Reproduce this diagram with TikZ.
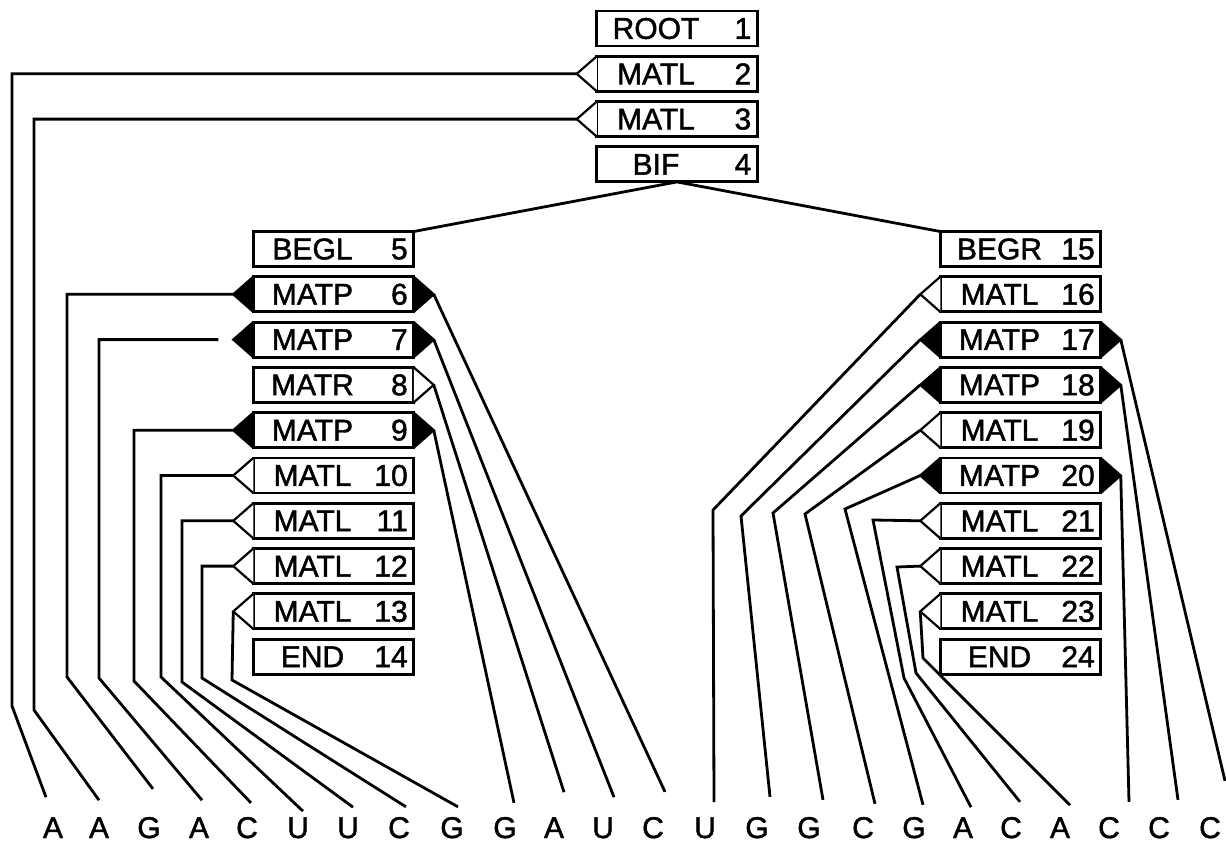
\documentclass[tikz,border=0pt]{standalone}
\usepackage{fontspec}
\setmainfont{Liberation Sans}[FakeBold=1.5]

\newcommand{\stlabel}[2]{\makebox[106.5pt]{#1}\makebox[42pt][r]{#2}\hspace{12pt}}

\begin{document}
\begin{tikzpicture}[x=1pt, y=-1pt, font=\fontsize{30}{36}\selectfont]
  \tikzstyle{state} = [draw, line width=2.9pt, fill=white, rectangle, minimum height=35pt, minimum width=160.5pt, inner sep=0pt, outer sep=0pt, node distance=45.3pt]
  \tikzstyle{openTip} = [draw, fill=white, line width=2.2pt]
  \tikzstyle{fullTip} = [draw, fill=black, line width=2.2pt]
  \tikzstyle{stateEdge} = [black, line width=2.8pt]
  \tikzstyle{residue} = [anchor=base, inner sep=0pt]

  \useasboundingbox (0,0) rectangle (1226,844);

  % top column
  \node[state] (n1)               at (677,28.5) {\stlabel{ROOT}{1}};
  \node[state] (n2) [below of=n1] {\stlabel{MATL}{2}};
  \node[state] (n3) [below of=n2] {\stlabel{MATL}{3}};
  \node[state] (n4) [below of=n3] {\stlabel{BIF}{4}};

  % left branch
  \node[state] (n5)                 at (333.5,249) {\stlabel{BEGL}{5}};
  \node[state] (n6)  [below of=n5]  {\stlabel{MATP}{6}};
  \node[state] (n7)  [below of=n6]  {\stlabel{MATP}{7}};
  \node[state] (n8)  [below of=n7]  {\stlabel{MATR}{8}};
  \node[state] (n9)  [below of=n8]  {\stlabel{MATP}{9}};
  \node[state] (n10) [below of=n9]  {\stlabel{MATL}{10}};
  \node[state] (n11) [below of=n10] {\stlabel{MATL}{11}};
  \node[state] (n12) [below of=n11] {\stlabel{MATL}{12}};
  \node[state] (n13) [below of=n12] {\stlabel{MATL}{13}};
  \node[state] (n14) [below of=n13] {\stlabel{END}{14}};

  % right branch
  \node[state] (n15)                at (1020.5,249) {\stlabel{BEGR}{15}};
  \node[state] (n16) [below of=n15] {\stlabel{MATL}{16}};
  \node[state] (n17) [below of=n16] {\stlabel{MATP}{17}};
  \node[state] (n18) [below of=n17] {\stlabel{MATP}{18}};
  \node[state] (n19) [below of=n18] {\stlabel{MATL}{19}};
  \node[state] (n20) [below of=n19] {\stlabel{MATP}{20}};
  \node[state] (n21) [below of=n20] {\stlabel{MATL}{21}};
  \node[state] (n22) [below of=n21] {\stlabel{MATL}{22}};
  \node[state] (n23) [below of=n22] {\stlabel{MATL}{23}};
  \node[state] (n24) [below of=n23] {\stlabel{END}{24}};

  % emission tips
  \foreach \s in {2,3,10,11,12,13,16,19,21,22,23}
    \draw[openTip] (n\s.north west) -- ([xshift=-20pt]n\s.west) coordinate (n\s L) -- (n\s.south west);
  \foreach \s in {6,7,9,17,18,20} {
    \draw[fullTip] (n\s.north west) -- ([xshift=-20pt]n\s.west) coordinate (n\s L) -- (n\s.south west);
    \draw[fullTip] (n\s.north east) -- ([xshift=20pt]n\s.east) coordinate (n\s R) -- (n\s.south east);
  }
  \draw[openTip] (n8.north east) -- ([xshift=20pt]n8.east) coordinate (n8R) -- (n8.south east);

  % sequence
  \foreach \b/\x [count=\i] in {A/53,A/99,G/149,A/199,C/247,U/298,U/348,C/399,G/452,G/505,A/554,U/603,C/653,U/705,G/757,G/809,C/863,G/914,A/963,C/1011,A/1060,C/1109,C/1159,C/1210}
    \node[residue] (r\i) at (\x,838) {\b};

  \draw[stateEdge] (n5.north east) -- (n4.south) -- (n15.north west);

  \draw[stateEdge] (n2L) -| (12,706) -- ([xshift=-7pt,yshift=20pt]r1.north);
  \draw[stateEdge] (n3L) -| (34,710) -- ([yshift=17pt]r2.north);
  \draw[stateEdge] (n6L) -| (67,677) -- ([xshift=4pt,yshift=28pt]r3.north);
  \draw[stateEdge, shorten <=15pt] (n7L) -| (99,678) -- ([xshift=3pt,yshift=17pt]r4.north);
  \draw[stateEdge] (n9L) -| (134,681) -- ([xshift=4pt,yshift=14pt]r5.north);
  \draw[stateEdge] (n10L) -| (161,677) -- ([xshift=5pt,yshift=6pt]r6.north);
  \draw[stateEdge] (n11L) -| (182,682) -- ([xshift=5pt,yshift=10pt]r7.north);
  \draw[stateEdge] (n12L) -| (202,678) -- ([xshift=7pt,yshift=10pt]r8.north);
  \draw[stateEdge] (n13L) -- (232,680) -- ([xshift=6pt,yshift=10pt]r9.north);

  \draw[stateEdge] (n9R) -- ([xshift=9pt,yshift=14pt]r10.north);
  \draw[stateEdge] (n8R) -- ([xshift=10pt,yshift=25pt]r11.north);
  \draw[stateEdge] (n7R) -- ([xshift=11pt,yshift=20pt]r12.north);
  \draw[stateEdge] (n6R) -- ([xshift=12pt,yshift=25pt]r13.north);

  \draw[stateEdge] (n16L) -- (713,510) -- ([xshift=9pt,yshift=15pt]r14.north);
  \draw[stateEdge] (n17L) -- (741,516) -- ([xshift=13pt,yshift=20pt]r15.north);
  \draw[stateEdge] (n18L) -- (773,513) -- ([xshift=14pt,yshift=17pt]r16.north);
  \draw[stateEdge] (n19L) -- (805,514) -- ([xshift=12pt,yshift=13pt]r17.north);
  \draw[stateEdge] (n20L) -- (845,509) -- ([xshift=9pt,yshift=12pt]r18.north);
  \draw[stateEdge] (n21L) -- (873,520) -- (904,678) -- ([xshift=8pt,yshift=10pt]r19.north);
  \draw[stateEdge] (n22L) -- (897,567) -- (916,673) -- ([xshift=9pt,yshift=15pt]r20.north);
  \draw[stateEdge] (n23L) -- (923,658) -- ([xshift=10pt,yshift=12pt]r21.north);

  \draw[stateEdge] (n20R) -- ([xshift=20pt,yshift=15pt]r22.north);
  \draw[stateEdge] (n18R) -- ([xshift=19pt,yshift=17pt]r23.north);
  \draw[stateEdge] (n17R) -- ([xshift=15pt,yshift=36pt]r24.north);
\end{tikzpicture}
\end{document}
